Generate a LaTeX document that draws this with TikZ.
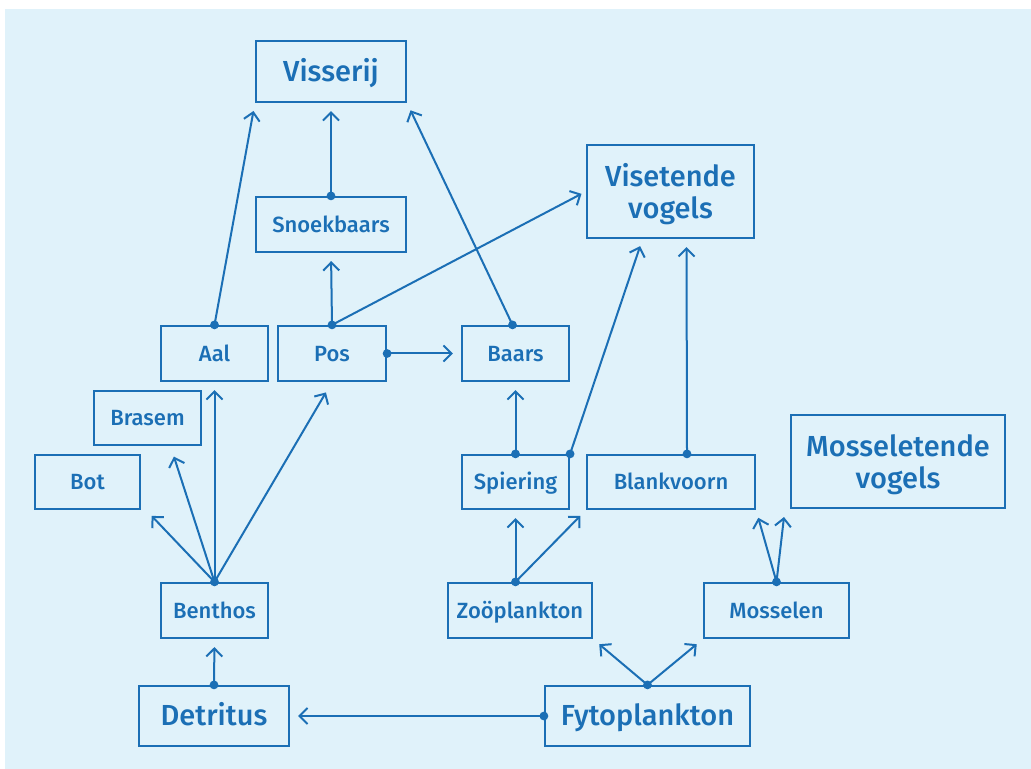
\documentclass[tikz,border=0pt]{standalone}
\usepackage{fontspec}
\setmainfont{Fira Sans}[UprightFont=* Medium, BoldFont=* SemiBold]
\usetikzlibrary{arrows.meta,calc}
\definecolor{webblue}{HTML}{1B6FB5}
\definecolor{webbg}{HTML}{E0F2FA}

\begin{document}
\begin{tikzpicture}[x=0.5pt, y=-0.5pt,
	box/.style={shape=rectangle, draw=webblue, line width=1.1pt, text=webblue, align=center, inner sep=0pt, font=\fontsize{11}{13}\selectfont},
	smallbox/.style={box, text height=10.3pt, text depth=2.5pt},
	bigbox/.style={box, font=\fontsize{14.5}{15.8}\selectfont},
	bigline/.style={bigbox, text height=12.3pt, text depth=2.6pt},
	eats/.style={draw=webblue, line width=1pt, -{Straight Barb[length=4pt, width=8pt]}, shorten >=4pt}]
	% Frame:
	\useasboundingbox (0, 0) rectangle (1031, 769);
	\fill[webbg] (5, 9) rectangle (1031, 769);
	% Boxes:
	\node[bigline, minimum width=75pt, minimum height=30.5pt] (visserij) at (331, 71.5){Visserij};
	\node[smallbox, minimum width=75pt, minimum height=27.5pt] (snoekbaars) at (331, 224.5){Snoekbaars};
	\node[bigbox, minimum width=83.5pt, minimum height=46.5pt] (visetende) at (670.5, 191.5){\rule{0pt}{14pt}Visetende\\vogels};
	\node[smallbox, minimum width=53.5pt, minimum height=27.5pt] (aal) at (214.5, 353.5){Aal};
	\node[smallbox, minimum width=54pt, minimum height=27.5pt] (pos) at (332, 353.5){Pos};
	\node[smallbox, minimum width=53.5pt, minimum height=27.5pt] (baars) at (515.5, 353.5){Baars};
	\node[smallbox, minimum width=53.5pt, minimum height=27pt] (brasem) at (147.5, 418){Brasem};
	\node[smallbox, minimum width=52.5pt, minimum height=27pt] (bot) at (87.5, 482){Bot};
	\node[smallbox, minimum width=53.5pt, minimum height=27pt] (spiering) at (515.5, 482){Spiering};
	\node[smallbox, minimum width=84pt, minimum height=27pt] (blankvoorn) at (671, 482){Blankvoorn};
	\node[bigbox, minimum width=107pt, minimum height=46.5pt] (mosseletende) at (898, 461.5){\rule{0pt}{14pt}Mosseletende\\vogels};
	\node[smallbox, minimum width=53.5pt, minimum height=27.5pt] (benthos) at (214.5, 610.5){Benthos};
	\node[smallbox, minimum width=72pt, minimum height=27.5pt] (zooplankton) at (520, 610.5){Zoöplankton};
	\node[smallbox, minimum width=72.5pt, minimum height=27.5pt] (mosselen) at (776.5, 610.5){Mosselen};
	\node[bigline, minimum width=75pt, minimum height=30pt] (detritus) at (214, 716){Detritus};
	\node[bigline, minimum width=102.5pt, minimum height=30pt] (fytoplankton) at (647.5, 716){Fytoplankton};
	% Who eats whom:
	\draw[eats] (aal.north) -- (visserij.south west);
	\draw[eats] (snoekbaars.north) -- (visserij.south);
	\draw[eats] ($(baars.north)+(-3, 0)$) -- (visserij.south east);
	\draw[eats] (pos.north) -- (snoekbaars.south);
	\draw[eats, shorten >=2.5pt] (pos.north) -- (visetende.west);
	\draw[eats] (pos.east) -- (baars.west);
	\draw[eats] (benthos.north) -- ($(bot.south east)+(5, 0)$);
	\draw[eats, shorten >=5.5pt] (benthos.north) -- ($(brasem.south)+(23, 0)$);
	\draw[eats] (benthos.north) -- (aal.south);
	\draw[eats, shorten >=6pt] (benthos.north) -- (pos.south);
	\draw[eats] (detritus.north) -- (benthos.south);
	\draw[eats] (fytoplankton.west) -- (detritus.east);
	\draw[eats] (fytoplankton.north) -- (zooplankton.south east);
	\draw[eats] (fytoplankton.north) -- (mosselen.south west);
	\draw[eats] (spiering |- zooplankton.north) -- (spiering.south);
	\draw[eats] (spiering |- zooplankton.north) -- (blankvoorn.south west);
	\draw[eats] (spiering.north) -- (baars.south);
	\draw[eats, shorten >=3.7pt] (spiering.north east) -- ($(visetende.south)+(-28, 0)$);
	\draw[eats] ($(blankvoorn.north)+(16, 0)$) -- ($(visetende.south)+(16, 0)$);
	\draw[eats] (mosselen.north) -- (blankvoorn.south east);
	\draw[eats] (mosselen.north) -- ($(mosseletende.south west)+(-5, 0)$);
	% Dots:
	\foreach \p in {aal.north, snoekbaars.north, pos.north, pos.east, benthos.north, detritus.north, fytoplankton.west, fytoplankton.north, spiering.north, spiering.north east, mosselen.north}
		\fill[webblue] (\p) circle (2.2pt);
	\fill[webblue] ($(baars.north)+(-3, 0)$) circle (2.2pt);
	\fill[webblue] (spiering |- zooplankton.north) circle (2.2pt);
	\fill[webblue] ($(blankvoorn.north)+(16, 0)$) circle (2.2pt);
\end{tikzpicture}
\end{document}
